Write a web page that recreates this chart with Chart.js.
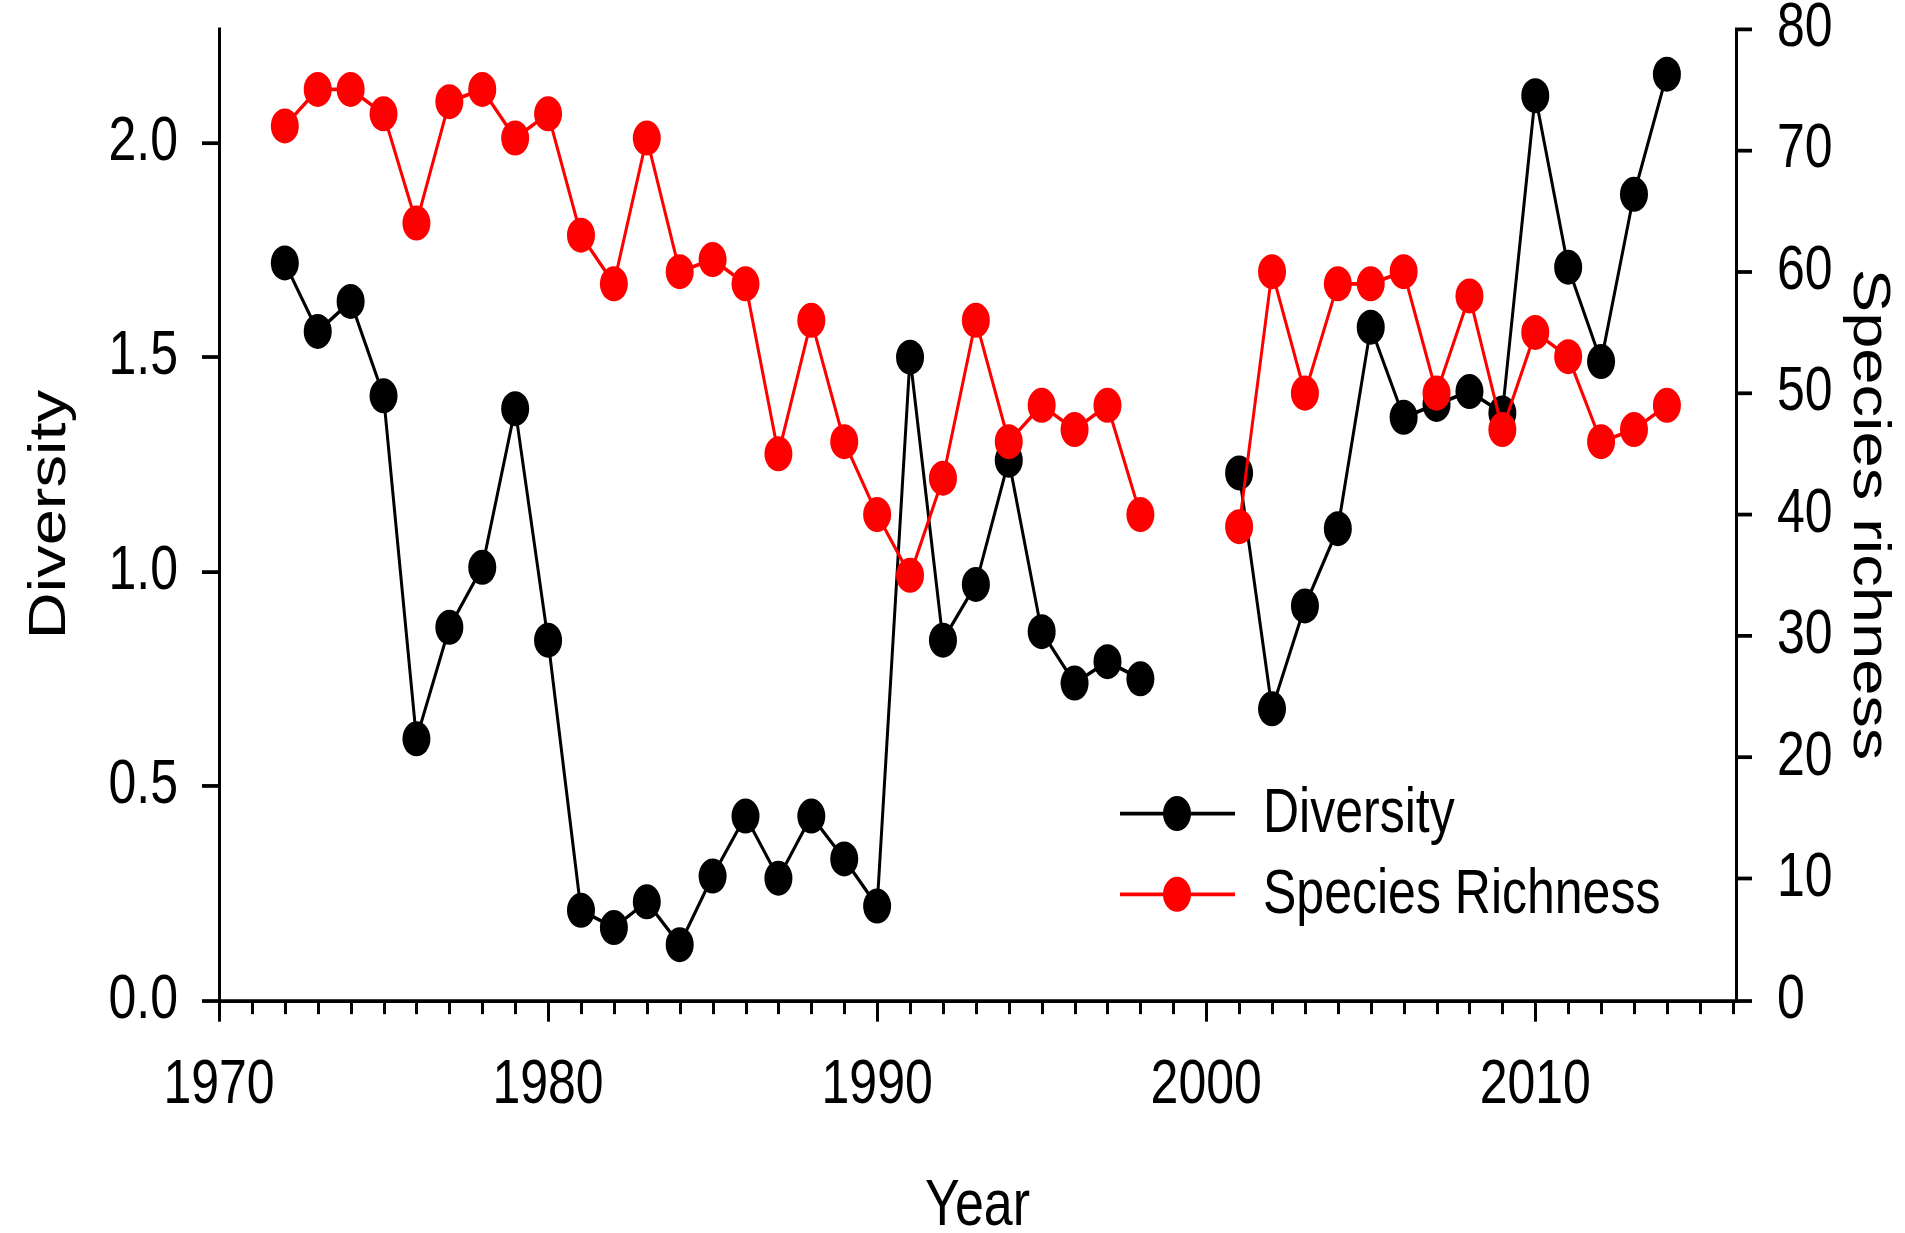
<!DOCTYPE html>
<html>
<head>
<meta charset="utf-8">
<script src="https://cdn.jsdelivr.net/npm/chart.js@4.4.1/dist/chart.umd.min.js"></script>
<style>
  html, body { margin: 0; padding: 0; background: #fff; overflow: hidden; }
  canvas { display: block; }
</style>
</head>
<body>
<canvas id="c" width="1905" height="986" style="width:1905px;height:986px"></canvas>
<script>
// ---- data ----
const years = [1972,1973,1974,1975,1976,1977,1978,1979,1980,1981,1982,1983,1984,1985,1986,1987,1988,1989,1990,
               1991,1992,1993,1994,1995,1996,1997,1998,1999,2000,2001,2002,2003,2004,2005,2006,2007,2008,2009,
               2010,2011,2012,2013,2014];
const diversity = [1.72,1.56,1.63,1.41,0.61,0.87,1.01,1.38,0.84,0.21,0.17,0.23,0.13,0.29,0.43,0.285,0.43,0.33,0.22,
                   1.50,0.84,0.97,1.26,0.86,0.74,0.79,0.75,null,null,1.23,0.68,0.92,1.10,1.57,1.36,1.39,1.42,1.37,
                   2.11,1.71,1.49,1.88,2.16];
const richness = [72,75,75,73,64,74,75,71,73,63,59,71,60,61,59,45,56,46,40,
                  35,43,56,46,49,47,49,40,null,null,39,60,50,59,59,60,50,58,47,
                  55,53,46,47,49];
const leftTicks = [0, 0.5, 1.0, 1.5, 2.0];
const rightTicks = [0,10,20,30,40,50,60,70,80];
const xMajorTicks = [1970,1980,1990,2000,2010];
const seriesNames = ['Diversity', 'Species Richness'];
const seriesColors = ['#000000', '#ff0000'];

const FONT = "'Liberation Sans', Arial, Helvetica, sans-serif";
Chart.defaults.font.family = FONT;
Chart.defaults.color = '#000';

const OUT_H = 1233, LAYOUT_H = 986, SY = OUT_H / LAYOUT_H;

const divData = years.map((y, i) => ({x: y, y: diversity[i]}));
const richData = years.map((y, i) => ({x: y, y: richness[i]}));

// The reference picture is vertically stretched; reproduce this by drawing
// the Chart.js layout through a vertical scale of the context.
const stretch = {
  id: 'stretch',
  beforeDraw(chart) {
    chart.ctx.save();
    chart.ctx.scale(1, SY);
  },
  afterDraw(chart) {
    const ctx = chart.ctx;
    // minor ticks on the year axis
    const xs = chart.scales.x;
    const y0 = chart.chartArea.bottom;
    ctx.save();
    ctx.strokeStyle = '#000';
    ctx.lineWidth = 3;
    for (let yr = 1971; yr <= 2016; yr++) {
      if (xMajorTicks.includes(yr)) continue;
      const px = Math.round(xs.getPixelForValue(yr)) + 0.5;
      ctx.beginPath();
      ctx.moveTo(px, y0);
      ctx.lineTo(px, y0 + 11);
      ctx.stroke();
    }
    ctx.restore();
    // legend
    const rows = [650.6, 715.2];
    ctx.save();
    rows.forEach((ry, i) => {
      ctx.strokeStyle = seriesColors[i];
      ctx.lineWidth = 3;
      ctx.beginPath();
      ctx.moveTo(1120, ry);
      ctx.lineTo(1235, ry);
      ctx.stroke();
      ctx.fillStyle = seriesColors[i];
      ctx.beginPath();
      ctx.arc(1177, ry, 14, 0, Math.PI * 2);
      ctx.fill();
      ctx.fillStyle = '#000';
      ctx.font = '50px ' + FONT;
      ctx.textAlign = 'left';
      ctx.textBaseline = 'middle';
      ctx.fillText(seriesNames[i], 1263, ry + 1);
    });
    ctx.restore();
    ctx.restore();
  }
};

const vFit = w => s => { s.width = w; s.paddingTop = 0; s.paddingBottom = 0; };

const canvas = document.getElementById('c');
const chart = new Chart(canvas, {
  type: 'line',
  data: {
    datasets: [
      {
        label: seriesNames[0], data: divData, yAxisID: 'y', order: 1,
        borderColor: seriesColors[0], backgroundColor: seriesColors[0], borderWidth: 3,
        pointRadius: 14, pointBackgroundColor: seriesColors[0], pointBorderWidth: 0,
        tension: 0, spanGaps: false, fill: false
      },
      {
        label: seriesNames[1], data: richData, yAxisID: 'y2', order: 0,
        borderColor: seriesColors[1], backgroundColor: seriesColors[1], borderWidth: 3,
        pointRadius: 14, pointBackgroundColor: seriesColors[1], pointBorderWidth: 0,
        tension: 0, spanGaps: false, fill: false
      }
    ]
  },
  options: {
    responsive: false,
    animation: false,
    devicePixelRatio: 1,
    layout: { autoPadding: false, padding: { top: 23, left: 0, right: 0, bottom: 0 } },
    plugins: { legend: { display: false }, tooltip: { enabled: false }, title: { display: false } },
    scales: {
      x: {
        type: 'linear', min: 1970, max: 2016.1, position: 'bottom',
        afterFit: s => { s.height = 186; s.paddingLeft = 0; s.paddingRight = 0; },
        afterBuildTicks: s => { s.ticks = []; for (let v = 1970; v <= 2016; v++) s.ticks.push({value: v}); },
        ticks: { autoSkip: false, maxRotation: 0, minRotation: 0, padding: 21, color: '#000',
                 font: { size: 50 }, callback: v => xMajorTicks.includes(v) ? String(v) : '' },
        grid: { display: true, drawOnChartArea: false, tickLength: 17, lineWidth: 3, color: '#000',
                tickColor: c => (c.tick && xMajorTicks.includes(c.tick.value)) ? '#000' : 'rgba(0,0,0,0)' },
        border: { display: true, color: '#000', width: 3 },
        title: { display: true, text: 'Year', color: '#000', font: { size: 52, lineHeight: 1 }, padding: { top: 0, bottom: -5 } }
      },
      y: {
        type: 'linear', position: 'left', min: 0, max: 2.266,
        afterFit: vFit(219),
        afterBuildTicks: s => { s.ticks = leftTicks.map(v => ({value: v})); },
        ticks: { padding: 24, color: '#000', font: { size: 50 }, callback: v => Number(v).toFixed(1) },
        grid: { display: true, drawOnChartArea: false, tickLength: 17, lineWidth: 3, color: '#000' },
        border: { display: true, color: '#000', width: 3 },
        title: { display: true, text: 'Diversity', color: '#000', font: { size: 52, lineHeight: 1 }, padding: { top: 25, bottom: 0 } }
      },
      y2: {
        type: 'linear', position: 'right', min: 0, max: 80,
        afterFit: vFit(169),
        afterBuildTicks: s => { s.ticks = rightTicks.map(v => ({value: v})); },
        ticks: { padding: 25, color: '#000', font: { size: 50 }, callback: v => String(v) },
        grid: { display: true, drawOnChartArea: false, tickLength: 16, lineWidth: 3, color: '#000' },
        border: { display: true, color: '#000', width: 3 },
        title: { display: true, text: 'Species richness', color: '#000', font: { size: 52, lineHeight: 1 }, padding: { top: 11, bottom: 0 } }
      }
    }
  },
  plugins: [stretch]
});

// enlarge the bitmap to the output size and redraw through the vertical stretch
canvas.height = OUT_H;
canvas.style.height = OUT_H + 'px';
chart.draw();
</script>
</body>
</html>
